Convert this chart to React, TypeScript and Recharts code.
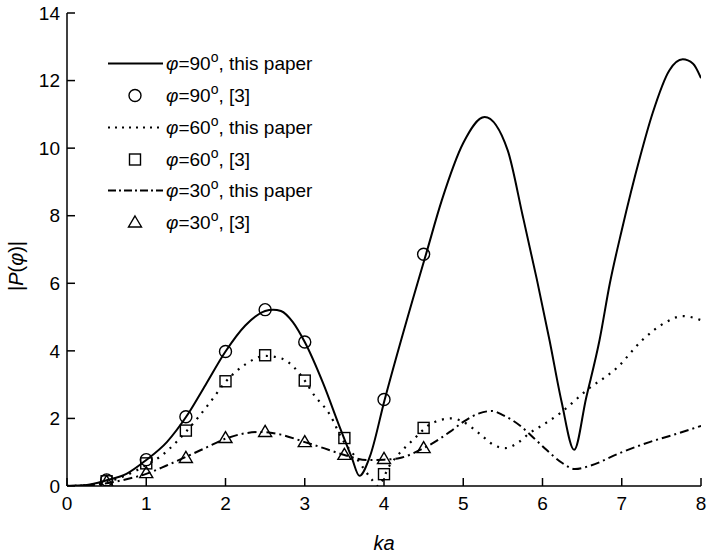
import React from 'react';
import { ComposedChart, Line, Scatter, XAxis, YAxis, Legend } from 'recharts';

// Axis ticks
const kaTicks = [0, 1, 2, 3, 4, 5, 6, 7, 8];
const pTicks = [0, 2, 4, 6, 8, 10, 12, 14];

// |P(phi)| versus ka, present method, phi = 90 deg
const curve90: [number, number][] = [
  [0, 0], [0.25, 0.03], [0.5, 0.17], [0.75, 0.36], [1.0, 0.77], [1.26, 1.3],
  [1.51, 2.07], [1.75, 3.0], [2.0, 3.98], [2.25, 4.75], [2.5, 5.18], [2.6, 5.22],
  [2.7, 5.18], [2.85, 4.85], [3.0, 4.26], [3.23, 3.05], [3.44, 1.75], [3.59, 0.86],
  [3.69, 0.3], [3.82, 0.86], [4.01, 2.57], [4.36, 5.5], [4.53, 6.86], [4.73, 8.46],
  [5.0, 10.15], [5.27, 10.92], [5.56, 9.94], [5.75, 8.0], [5.93, 6.1], [6.09, 4.3],
  [6.24, 2.5], [6.4, 1.07], [6.55, 2.6], [6.72, 4.32], [6.85, 6.0], [7.0, 7.57],
  [7.23, 9.73], [7.39, 11.04], [7.6, 12.3], [7.77, 12.63], [7.9, 12.5], [8.0, 12.07],
];

// phi = 60 deg
const curve60: [number, number][] = [
  [0, 0], [0.25, 0.02], [0.5, 0.12], [0.75, 0.32], [1.0, 0.62], [1.17, 0.86],
  [1.38, 1.3], [1.5, 1.6], [1.8, 2.46], [2.0, 3.08], [2.25, 3.6], [2.5, 3.85],
  [2.7, 3.78], [3.0, 3.12], [3.1, 2.75], [3.32, 2.1], [3.47, 1.4], [3.66, 0.8],
  [3.85, 0.18], [3.92, 0.0], [4.07, 0.6], [4.2, 0.98], [4.36, 1.35], [4.6, 1.85],
  [4.85, 2.0], [5.0, 1.9], [5.2, 1.56], [5.38, 1.22], [5.53, 1.12], [5.7, 1.3],
  [5.84, 1.57], [6.0, 1.8], [6.22, 2.15], [6.56, 2.84], [6.94, 3.5], [7.26, 4.32],
  [7.56, 4.85], [7.77, 5.03], [8.0, 4.91],
];

// phi = 30 deg
const curve30: [number, number][] = [
  [0, 0], [0.25, 0.02], [0.5, 0.08], [0.75, 0.2], [1.0, 0.36], [1.25, 0.6],
  [1.5, 0.86], [1.75, 1.13], [2.0, 1.4], [2.25, 1.56], [2.45, 1.6], [2.7, 1.52],
  [3.0, 1.3], [3.2, 1.15], [3.5, 0.92], [3.78, 0.77], [4.0, 0.78], [4.2, 0.83],
  [4.5, 1.12], [4.83, 1.6], [5.0, 1.9], [5.2, 2.15], [5.36, 2.22], [5.5, 2.1],
  [5.71, 1.8], [5.9, 1.4], [6.05, 1.07], [6.25, 0.68], [6.41, 0.5], [6.6, 0.6],
  [6.97, 0.97], [7.35, 1.3], [7.7, 1.55], [8.0, 1.78],
];

// Reference [3] results
const ref90: [number, number][] = [
  [0.5, 0.18], [1.0, 0.78], [1.5, 2.05], [2.0, 3.98], [2.5, 5.22], [3.0, 4.26],
  [4.0, 2.56], [4.5, 6.86],
];
const ref60: [number, number][] = [
  [0.5, 0.14], [1.0, 0.67], [1.5, 1.64], [2.0, 3.1], [2.5, 3.87], [3.0, 3.12],
  [3.5, 1.42], [4.0, 0.35], [4.5, 1.72],
];
const ref30: [number, number][] = [
  [0.5, 0.12], [1.0, 0.38], [1.5, 0.83], [2.0, 1.42], [2.5, 1.6], [3.0, 1.3],
  [3.5, 0.92], [4.0, 0.8], [4.5, 1.12],
];

// Legend entries
const legendAngles = ['90', '90', '60', '60', '30', '30'];
const legendTails = [', this paper', ', [3]', ', this paper', ', [3]', ', this paper', ', [3]'];
const legendKinds = ['solid', 'circle', 'dot', 'square', 'dashdot', 'triangle'];

const toPts = (arr: [number, number][]) => arr.map(([x, y]) => ({ x, y }));

const FONT = '"Liberation Sans", Arial, Helvetica, sans-serif';
const DOT = '2 6';
const DASHDOT = '9 4 2 4';

const Ring = (p: any) => (
  <circle cx={p.cx} cy={p.cy} r={6} fill="none" stroke="#000" strokeWidth={1.4} />
);
const Box = (p: any) => (
  <rect x={p.cx - 5.5} y={p.cy - 5.5} width={11} height={11} fill="none" stroke="#000" strokeWidth={1.4} />
);
const Tri = (p: any) => (
  <path
    d={`M${p.cx},${p.cy - 6.5} L${p.cx + 6.5},${p.cy + 4.5} L${p.cx - 6.5},${p.cy + 4.5} Z`}
    fill="none"
    stroke="#000"
    strokeWidth={1.4}
  />
);

const LegendBlock = () => {
  const baselines = [70, 102, 134, 166, 197, 229];
  return (
    <svg width={420} height={250} style={{ display: 'block' }}>
      {legendKinds.map((kind, i) => {
        const base = baselines[i];
        const my = base - 6.5;
        let sample: React.ReactNode = null;
        if (kind === 'solid' || kind === 'dot' || kind === 'dashdot') {
          sample = (
            <line
              x1={108}
              x2={163}
              y1={my}
              y2={my}
              stroke="#000"
              strokeWidth={kind === 'solid' ? 1.8 : 2}
              strokeDasharray={kind === 'dot' ? '2 5' : kind === 'dashdot' ? '8 3 2 3' : undefined}
            />
          );
        } else if (kind === 'circle') {
          sample = <Ring cx={135} cy={my} />;
        } else if (kind === 'square') {
          sample = <Box cx={135} cy={my} />;
        } else {
          sample = <Tri cx={135} cy={my} />;
        }
        return (
          <g key={i}>
            {sample}
            <text x={166} y={base} fontSize={19} fontFamily={FONT} fill="#000">
              <tspan fontStyle="italic">φ</tspan>
              <tspan>={legendAngles[i]}</tspan>
              <tspan fontSize={14} dy={-8}>o</tspan>
              <tspan dy={8}>{legendTails[i]}</tspan>
            </text>
          </g>
        );
      })}
    </svg>
  );
};

const YLabel = () => (
  <text
    x={23}
    y={266}
    transform="rotate(-90 23 266)"
    textAnchor="middle"
    fontSize={20}
    fontFamily={FONT}
    fill="#000"
  >
    <tspan>|</tspan>
    <tspan fontStyle="italic">P</tspan>
    <tspan>(</tspan>
    <tspan fontStyle="italic">φ</tspan>
    <tspan>)|</tspan>
  </text>
);

const axisStroke = { stroke: '#000', strokeWidth: 1.5 };
const tickFont = { fill: '#000', fontSize: 19, fontFamily: FONT };

export default function App() {
  return (
    <div style={{ position: 'absolute', left: 0, top: 0, width: 707, height: 557, background: '#fff' }}>
      <ComposedChart
        width={707}
        height={557}
        margin={{ top: 13, right: 6, left: 0, bottom: 0 }}
        style={{ fontFamily: FONT }}
      >
        <XAxis
          xAxisId="b"
          type="number"
          dataKey="x"
          domain={[0, 8]}
          ticks={kaTicks}
          interval={0}
          allowDataOverflow
          height={71}
          tickSize={-8}
          tickMargin={19}
          axisLine={axisStroke}
          tickLine={axisStroke}
          tick={tickFont}
          label={{
            value: 'ka',
            position: 'insideBottom',
            offset: 7,
            style: { fontStyle: 'italic', fontSize: 20, fill: '#000', fontFamily: FONT },
          }}
        />
        <XAxis
          xAxisId="t"
          orientation="top"
          type="number"
          dataKey="x"
          domain={[0, 8]}
          ticks={kaTicks}
          interval={0}
          allowDataOverflow
          height={0}
          tickSize={-8}
          axisLine={axisStroke}
          tickLine={axisStroke}
          tick={false}
        />
        <YAxis
          yAxisId="l"
          type="number"
          domain={[0, 14]}
          ticks={pTicks}
          interval={0}
          allowDataOverflow
          width={67}
          tickSize={-8}
          tickMargin={15}
          axisLine={axisStroke}
          tickLine={axisStroke}
          tick={tickFont}
          label={<YLabel />}
        />
        <YAxis
          yAxisId="r"
          orientation="right"
          type="number"
          domain={[0, 14]}
          ticks={pTicks}
          interval={0}
          allowDataOverflow
          width={0}
          tickSize={-8}
          axisLine={axisStroke}
          tickLine={axisStroke}
          tick={false}
        />
        <Line
          xAxisId="b"
          yAxisId="l"
          data={toPts(curve90)}
          dataKey="y"
          type="monotone"
          stroke="#000"
          strokeWidth={2}
          dot={false}
          activeDot={false}
          isAnimationActive={false}
        />
        <Line
          xAxisId="b"
          yAxisId="l"
          data={toPts(curve60)}
          dataKey="y"
          type="monotone"
          stroke="#000"
          strokeWidth={2.2}
          strokeDasharray={DOT}
          dot={false}
          activeDot={false}
          isAnimationActive={false}
        />
        <Line
          xAxisId="b"
          yAxisId="l"
          data={toPts(curve30)}
          dataKey="y"
          type="monotone"
          stroke="#000"
          strokeWidth={2}
          strokeDasharray={DASHDOT}
          dot={false}
          activeDot={false}
          isAnimationActive={false}
        />
        <Scatter xAxisId="b" yAxisId="l" data={toPts(ref90)} dataKey="y" shape={Ring} isAnimationActive={false} />
        <Scatter xAxisId="b" yAxisId="l" data={toPts(ref60)} dataKey="y" shape={Box} isAnimationActive={false} />
        <Scatter xAxisId="b" yAxisId="l" data={toPts(ref30)} dataKey="y" shape={Tri} isAnimationActive={false} />
        <Legend
          layout="horizontal"
          verticalAlign="middle"
          align="center"
          content={() => <LegendBlock />}
          wrapperStyle={{ left: 0, top: 0, width: 420, height: 250 }}
        />
      </ComposedChart>
    </div>
  );
}
